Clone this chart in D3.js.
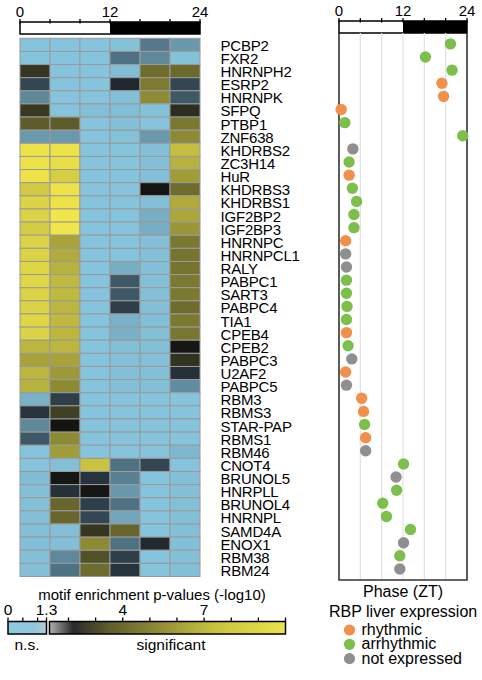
<!DOCTYPE html>
<html>
<head>
<meta charset="utf-8"/>
<script src="https://d3js.org/d3.v7.min.js"></script>
<style>
  body { margin: 0; background: #fff; }
  svg { font-family: "Liberation Sans", Arial, Helvetica, sans-serif; }
</style>
</head>
<body>
<div id="chart"></div>
<script>
// RBP names, top to bottom
var genes = ["PCBP2","FXR2","HNRNPH2","ESRP2","HNRNPK","SFPQ","PTBP1","ZNF638","KHDRBS2","ZC3H14",
  "HuR","KHDRBS3","KHDRBS1","IGF2BP2","IGF2BP3","HNRNPC","HNRNPCL1","RALY","PABPC1","SART3",
  "PABPC4","TIA1","CPEB4","CPEB2","PABPC3","U2AF2","PABPC5","RBM3","RBMS3","STAR-PAP",
  "RBMS1","RBM46","CNOT4","BRUNOL5","HNRPLL","BRUNOL4","HNRNPL","SAMD4A","ENOX1","RBM38","RBM24"];

// time bins (ZT start of each 4h window)
var bins = [0, 4, 8, 12, 16, 20];

// motif enrichment, -log10 p, one row per gene, one value per bin
var enrich = [
  [0.1,0.1,0.1,0.15,1.0,0.8],
  [0.1,0.1,0.1,1.05,0.9,0.15],
  [2.2,0.1,0.1,0.25,3.8,3.7],
  [1.2,0.1,0.1,1.28,4.3,1.2],
  [0.9,0.1,0.1,0.2,5.0,1.15],
  [2.3,0.1,0.2,0.25,0.15,2.0],
  [3.3,3.3,0.1,0.2,0.1,4.2],
  [0.8,0.8,0.1,0.15,0.8,5.0],
  [9.8,9.8,0.1,0.1,0.2,7.5],
  [9.8,9.5,0.1,0.1,0.2,6.8],
  [9.8,8.5,0.1,0.1,0.2,5.8],
  [8.2,9.8,0.1,0.1,1.35,3.8],
  [8.8,9.8,0.1,0.1,0.2,6.5],
  [8.8,10,0.1,0.1,0.5,6.3],
  [8.4,10,0.1,0.1,0.5,5.6],
  [8.8,6.2,0.1,0.1,0.2,4.2],
  [8.8,6.5,0.1,0.1,0.2,4.0],
  [9.0,6.8,0.1,0.5,0.2,4.0],
  [9.0,7.2,0.1,1.15,0.2,4.2],
  [8.8,7.2,0.1,1.15,0.2,4.2],
  [8.8,7.0,0.1,1.22,0.2,3.8],
  [9.0,7.2,0.1,0.45,0.2,4.2],
  [8.8,7.0,0.1,0.45,0.2,4.1],
  [7.0,7.0,0.1,0.2,0.2,1.4],
  [6.1,6.1,0.1,0.2,0.2,2.1],
  [7.0,5.7,0.1,0.2,0.2,1.26],
  [6.8,5.0,0.1,0.2,0.2,0.88],
  [0.45,1.22,0.1,0.1,0.1,0.1],
  [1.25,2.5,0.1,0.1,0.1,0.1],
  [0.9,1.35,0.1,0.1,0.1,0.1],
  [1.15,5.0,0.1,0.1,0.1,0.1],
  [0.1,5.8,0.1,0.1,0.1,0.35],
  [0.1,0.2,7.8,1.05,1.2,0.1],
  [0.3,1.4,1.25,0.95,0.1,0.2],
  [0.2,1.26,1.4,0.8,0.1,0.2],
  [0.2,3.6,1.22,1.05,0.1,0.2],
  [0.2,3.6,1.2,0.6,0.1,0.2],
  [0.2,0.2,2.2,3.6,0.1,0.2],
  [0.2,0.2,5.0,1.05,1.28,0.2],
  [0.2,0.9,3.0,1.22,0.1,0.2],
  [0.2,1.05,3.8,1.25,0.1,0.2]
];

// peak phase (ZT) and liver expression class per gene
var phase = [20.9,16.2,21.2,19.3,19.6,0.4,1.1,23.2,2.6,1.9,
  1.9,2.5,3.3,2.8,2.8,1.25,1.25,1.4,1.4,1.4,
  1.5,1.4,1.4,1.7,2.4,1.25,1.4,4.25,4.6,4.8,
  5.0,5.0,12.1,10.7,10.8,8.2,8.9,13.4,12.1,11.4,11.4];
var expr = ["a","a","a","r","r","r","a","a","n","a",
  "r","a","a","a","a","r","n","n","a","a",
  "a","a","r","a","n","r","n","r","r","a",
  "r","n","a","n","a","a","a","a","n","a","n"];

var exprKeys = ["r","a","n"];
var exprNames = ["rhythmic","arrhythmic","not expressed"];
var exprColors = ["#f0904b","#7cbf4c","#8f8f8f"];

var ztTicks = [0, 4, 8, 12, 16, 20, 24];
var ztLabels = [0, 12, 24];
var nsTicks = [0, 0.5, 1, 1.3];
var sigTicks = [2, 3, 4, 5, 6, 7, 8, 9, 10];
var legendLabels = [[0,"0"],[1.3,"1.3"],[4,"4"],[7,"7"]];

var W = 482, H = 680;
var svg = d3.select('#chart').append('svg').attr('width', W).attr('height', H);

// colour of a cell: blue side below 1.3, black to yellow above
var nsColor = d3.scaleLinear().domain([0, 0.3, 0.8, 1.1, 1.3])
  .range(['#88c8e0', '#80bcd4', '#6a98ac', '#4a6a7a', '#1c2228']);
var sigColor = d3.scaleLinear().domain([1.3, 2, 4, 7, 10])
  .range(['#121212', '#2e2e20', '#76742f', '#bcb63e', '#f0e64a']);
var cellColor = v => v < 1.3 ? nsColor(v) : sigColor(v);

var y = d3.scaleBand().domain(genes).range([38.3, 576.5]);
var xh = d3.scaleBand().domain(bins).range([20, 200]);
var zt = d3.scaleLinear().domain([0, 24]).range([20, 200]);
var ph = d3.scaleLinear().domain([0, 24]).range([339, 467]);

// day/night bar with ticks above
function dayBar(scale, top) {
  var g = svg.append('g');
  g.append('rect').attr('x', scale(12)).attr('y', top)
    .attr('width', scale(24) - scale(12)).attr('height', 12).attr('fill', '#000');
  g.append('rect').attr('x', scale(0)).attr('y', top)
    .attr('width', scale(24) - scale(0)).attr('height', 12)
    .attr('fill', 'none').attr('stroke', '#000').attr('stroke-width', 1.5);
  g.selectAll('line.t').data(ztTicks).enter().append('line')
    .attr('x1', d => scale(d)).attr('x2', d => scale(d))
    .attr('y1', top - 3).attr('y2', top + 1.5)
    .attr('stroke', '#000').attr('stroke-width', 1.3);
  g.selectAll('text').data(ztLabels).enter().append('text')
    .attr('x', d => scale(d)).attr('y', top - 5)
    .attr('text-anchor', 'middle').attr('font-size', 15).text(d => d);
}
dayBar(zt, 22);
dayBar(ph, 21);

// heatmap
var rows = svg.append('g').selectAll('g').data(enrich).enter().append('g')
  .attr('transform', (d, i) => `translate(0,${y(genes[i])})`);
rows.selectAll('rect').data(d => d).enter().append('rect')
  .attr('x', (d, j) => xh(bins[j])).attr('width', xh.bandwidth())
  .attr('height', y.bandwidth())
  .attr('fill', d => cellColor(d))
  .attr('stroke', '#9a9a9a').attr('stroke-width', 1);

svg.append('g').selectAll('text').data(genes).enter().append('text')
  .attr('x', 220.5).attr('y', d => y(d) + y.bandwidth() / 2 + 6)
  .attr('font-size', 15).attr('letter-spacing', -0.2).text(d => d);

// phase panel
var pg = svg.append('g');
pg.selectAll('line.grid').data([4, 8, 12, 16, 20]).enter().append('line')
  .attr('x1', d => ph(d)).attr('x2', d => ph(d)).attr('y1', 33).attr('y2', 580)
  .attr('stroke', '#e2e2e2').attr('stroke-width', 1.2);
pg.append('path')
  .attr('d', `M${ph(0)},33V580H${ph(24)}V33`)
  .attr('fill', 'none').attr('stroke', '#333').attr('stroke-width', 1.6);
pg.selectAll('circle').data(genes).enter().append('circle')
  .attr('cx', (d, i) => ph(phase[i]))
  .attr('cy', d => y(d) + y.bandwidth() / 2 - 1)
  .attr('r', 5.7)
  .attr('fill', (d, i) => exprColors[exprKeys.indexOf(expr[i])]);
svg.append('text').attr('x', ph(12)).attr('y', 597)
  .attr('text-anchor', 'middle').attr('font-size', 16).text('Phase (ZT)');

// expression legend
svg.append('text').attr('x', 329).attr('y', 617).attr('font-size', 16)
  .text('RBP liver expression');
var lg = svg.append('g').selectAll('g').data(exprNames).enter().append('g')
  .attr('transform', (d, i) => `translate(349.5,${630 + i * 14.3})`);
lg.append('circle').attr('r', 5.6).attr('fill', (d, i) => exprColors[i]);
lg.append('text').attr('x', 12).attr('y', 5).attr('font-size', 16).text(d => d);

// colour key
svg.append('text').attr('x', 152).attr('y', 600).attr('text-anchor', 'middle')
  .attr('font-size', 15).text('motif enrichment p-values (-log10)');

var kNs = d3.scaleLinear().domain([0, 1.3]).range([8, 46.5]);
var kSig = d3.scaleLinear().domain([1.3, 10]).range([49.5, 285.5]);
var defs = svg.append('defs');
var gNs = defs.append('linearGradient').attr('id', 'gns');
[[0, '#8ccae2'], [0.7, '#92c8de'], [1, '#b6cad4']].forEach(s =>
  gNs.append('stop').attr('offset', s[0]).attr('stop-color', s[1]));
var gSig = defs.append('linearGradient').attr('id', 'gsig');
[[0, '#b0b0b0'], [0.1, '#2a2a2a'], [0.25, '#5e5c2c'], [0.45, '#8e8a36'],
 [0.7, '#c8c240'], [1, '#ece44a']].forEach(s =>
  gSig.append('stop').attr('offset', s[0]).attr('stop-color', s[1]));

var kTop = 621.5, kH = 12.5;
svg.append('rect').attr('x', kNs(0)).attr('y', kTop).attr('width', kNs(1.3) - kNs(0))
  .attr('height', kH).attr('fill', 'url(#gns)').attr('stroke', '#000').attr('stroke-width', 1.5);
svg.append('rect').attr('x', kSig(1.3)).attr('y', kTop).attr('width', kSig(10) - kSig(1.3))
  .attr('height', kH).attr('fill', 'url(#gsig)').attr('stroke', '#000').attr('stroke-width', 1.5);
svg.append('g').selectAll('line').data(nsTicks.map(kNs).concat(sigTicks.map(kSig)))
  .enter().append('line')
  .attr('x1', d => d).attr('x2', d => d).attr('y1', kTop - 4).attr('y2', kTop)
  .attr('stroke', '#000').attr('stroke-width', 1.3);
svg.append('g').selectAll('text').data(legendLabels).enter().append('text')
  .attr('x', d => d[0] < 1.3 ? kNs(d[0]) : kSig(d[0]) - (d[0] === 1.3 ? 3 : 0))
  .attr('y', 615).attr('text-anchor', 'middle').attr('font-size', 15.5)
  .text(d => d[1]);
svg.append('text').attr('x', 27).attr('y', 650).attr('text-anchor', 'middle')
  .attr('font-size', 15.5).text('n.s.');
svg.append('text').attr('x', 171).attr('y', 650).attr('text-anchor', 'middle')
  .attr('font-size', 15.5).text('significant');
</script>
</body>
</html>
